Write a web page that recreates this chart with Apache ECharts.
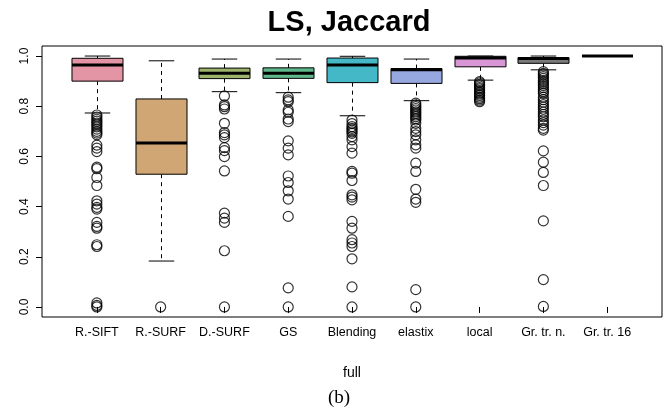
<!DOCTYPE html>
<html>
<head>
<meta charset="utf-8">
<script src="https://cdn.jsdelivr.net/npm/echarts@6/dist/echarts.min.js"></script>
<style>
  html, body { margin: 0; padding: 0; background: #fff; }
  #chart { width: 668px; height: 412px; }
</style>
</head>
<body>
<div id="chart"></div>
<script>
  // categories along the bottom axis
  const categories = ['R.-SIFT', 'R.-SURF', 'D.-SURF', 'GS', 'Blending', 'elastix', 'local', 'Gr. tr. n.', 'Gr. tr. 16'];

  // box statistics, one value per category
  const whiskerLow = [0.773, 0.183, 0.858, 0.854, 0.762, 0.822, 0.904, 0.945, 0.999];
  const quartile1 = [0.900, 0.529, 0.910, 0.911, 0.894, 0.891, 0.957, 0.971, 1.000];
  const medians = [0.964, 0.653, 0.931, 0.931, 0.964, 0.945, 0.992, 0.990, 1.000];
  const quartile3 = [0.991, 0.829, 0.952, 0.953, 0.992, 0.950, 0.999, 0.994, 1.000];
  const whiskerHigh = [1.000, 0.981, 0.988, 0.988, 0.999, 0.988, 1.000, 1.000, 1.000];

  // outliers per category (same order)
  const outliersSift = [0.765, 0.757, 0.748, 0.741, 0.733, 0.726, 0.718, 0.709, 0.700, 0.693, 0.686, 0.645, 0.633, 0.619, 0.557, 0.551, 0.516, 0.484, 0.423, 0.410, 0.397, 0.390, 0.337, 0.321, 0.314, 0.248, 0.241, 0.016, 0.006, 0.0];
  const outliersSurf = [0.0];
  const outliersDSurf = [0.841, 0.805, 0.798, 0.789, 0.732, 0.695, 0.686, 0.675, 0.635, 0.623, 0.599, 0.542, 0.374, 0.354, 0.337, 0.224, 0.0];
  const outliersGS = [0.836, 0.825, 0.818, 0.785, 0.776, 0.749, 0.739, 0.662, 0.633, 0.606, 0.522, 0.496, 0.463, 0.430, 0.361, 0.076, 0.0];
  const outliersBlending = [0.745, 0.731, 0.719, 0.712, 0.705, 0.698, 0.692, 0.679, 0.666, 0.639, 0.613, 0.540, 0.533, 0.504, 0.447, 0.438, 0.427, 0.341, 0.314, 0.268, 0.255, 0.241, 0.192, 0.080, 0.0];
  const outliersElastix = [0.812, 0.805, 0.798, 0.791, 0.785, 0.778, 0.772, 0.765, 0.758, 0.751, 0.745, 0.732, 0.712, 0.699, 0.686, 0.666, 0.646, 0.633, 0.573, 0.540, 0.469, 0.430, 0.417, 0.069, 0.0];
  const outliersLocal = [0.898, 0.893, 0.887, 0.881, 0.874, 0.869, 0.862, 0.855, 0.849, 0.843, 0.836, 0.830, 0.824, 0.818];
  const outliersGrN = [0.938, 0.931, 0.925, 0.918, 0.911, 0.903, 0.896, 0.889, 0.882, 0.874, 0.866, 0.858, 0.851, 0.836, 0.826, 0.816, 0.806, 0.797, 0.788, 0.777, 0.767, 0.758, 0.745, 0.735, 0.725, 0.712, 0.705, 0.622, 0.577, 0.536, 0.484, 0.343, 0.109, 0.002];
  const outlies16 = [];

  const yTicks = [0, 0.2, 0.4, 0.6, 0.8, 1.0];

  const boxColors = ['#E495A5', '#D0A674', '#9DB26B', '#5FB98D', '#45B8C7', '#97A8E0', '#D896D4', '#7a7a7a', '#000000'];

  const allOutliers = [outliersSift, outliersSurf, outliersDSurf, outliersGS, outliersBlending, outliersElastix, outliersLocal, outliersGrN, outlies16];

  const boxData = categories.map((c, i) => [i + 1, whiskerLow[i], quartile1[i], medians[i], quartile3[i], whiskerHigh[i]]);
  const outlierData = [];
  allOutliers.forEach((list, i) => {
    list.forEach((v) => outlierData.push([i + 1, v]));
  });
  const xPositions = categories.map((c, i) => i + 1);

  const font = 'Liberation Sans, Arial, sans-serif';

  const renderBox = (params, api) => {
    const x = api.value(0);
    const lo = api.coord([x, api.value(1)]);
    const q1 = api.coord([x, api.value(2)]);
    const md = api.coord([x, api.value(3)]);
    const q3 = api.coord([x, api.value(4)]);
    const hi = api.coord([x, api.value(5)]);
    const w = api.size([0.8, 0])[0];
    const cx = Math.round(lo[0]) + 0.5;
    const dash = { stroke: '#000', lineWidth: 1, lineDash: [4, 4] };
    const solid = { stroke: '#000', lineWidth: 1 };
    return {
      type: 'group',
      children: [
        { type: 'line', shape: { x1: cx, y1: q3[1], x2: cx, y2: hi[1] }, style: dash },
        { type: 'line', shape: { x1: cx, y1: q1[1], x2: cx, y2: lo[1] }, style: dash },
        { type: 'line', shape: { x1: cx - w / 4, y1: hi[1], x2: cx + w / 4, y2: hi[1] }, style: solid },
        { type: 'line', shape: { x1: cx - w / 4, y1: lo[1], x2: cx + w / 4, y2: lo[1] }, style: solid },
        {
          type: 'rect',
          shape: { x: cx - w / 2, y: q3[1], width: w, height: q1[1] - q3[1] },
          style: { fill: boxColors[params.dataIndex], stroke: '#000', lineWidth: 1 },
        },
        { type: 'line', shape: { x1: cx - w / 2, y1: md[1], x2: cx + w / 2, y2: md[1] }, style: { stroke: '#000', lineWidth: 3 } },
      ],
    };
  };

  const config = {
    animation: false,
    grid: {
      left: 42,
      right: 6,
      top: 46,
      bottom: 95,
      show: true,
      borderColor: '#000',
      borderWidth: 1,
      backgroundColor: 'transparent',
    },
    xAxis: {
      type: 'value',
      min: 0.14,
      max: 9.86,
      splitLine: { show: false },
      axisLine: { show: false },
      axisTick: {
        show: true,
        length: 6,
        customValues: xPositions,
        lineStyle: { color: '#000' },
      },
      axisLabel: {
        customValues: xPositions,
        formatter: (v) => categories[Math.round(v) - 1] || '',
        color: '#000',
        fontSize: 12.5,
        fontFamily: font,
        margin: 9,
      },
    },
    yAxis: {
      type: 'value',
      min: -0.04,
      max: 1.04,
      splitLine: { show: false },
      axisLine: { show: false },
      axisTick: {
        show: true,
        length: 6,
        customValues: yTicks,
        lineStyle: { color: '#000' },
      },
      axisLabel: {
        customValues: yTicks,
        formatter: (v) => v.toFixed(1),
        rotate: 90,
        color: '#000',
        fontSize: 12,
        fontFamily: font,
        margin: 11,
      },
    },
    graphic: [
      {
        type: 'text',
        x: 349,
        y: 23,
        style: { text: 'LS, Jaccard', fontSize: 29, fontWeight: 'bold', fontFamily: font, fill: '#000', align: 'center', verticalAlign: 'middle' },
      },
      {
        type: 'text',
        x: 352,
        y: 373,
        style: { text: 'full', fontSize: 14, fontFamily: font, fill: '#000', align: 'center', verticalAlign: 'middle' },
      },
      {
        type: 'text',
        x: 339,
        y: 398,
        style: { text: '(b)', fontSize: 19, fontFamily: 'Liberation Serif, Times New Roman, serif', fill: '#000', align: 'center', verticalAlign: 'middle' },
      },
    ],
    series: [
      {
        type: 'custom',
        renderItem: renderBox,
        data: boxData,
        encode: { x: 0, y: [1, 2, 3, 4, 5] },
        silent: true,
      },
      {
        type: 'scatter',
        data: outlierData,
        symbol: 'circle',
        symbolSize: 10,
        itemStyle: { color: 'rgba(0,0,0,0)', borderColor: '#000', borderWidth: 1.2 },
        silent: true,
      },
    ],
  };

  const chart = echarts.init(document.getElementById('chart'));
  chart.setOption(config);
</script>
</body>
</html>
